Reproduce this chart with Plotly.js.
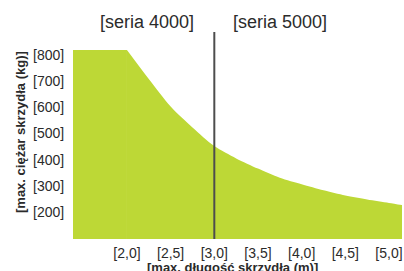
<!DOCTYPE html>
<html>
<head>
<meta charset="utf-8">
<script src="https://cdn.plot.ly/plotly-3.0.1.min.js"></script>
<style>html,body{margin:0;padding:0;background:#fff;}#chart{width:404px;height:271px;}</style>
</head>
<body>
<div id="chart"></div>
<script>
// Data
const lengthM = [1.38, 2.0, 2.25, 2.5, 2.75, 3.0, 3.25, 3.5, 3.75, 4.0, 4.25, 4.5, 4.75, 5.0, 5.15];
const maxWeightKg = [819, 819, 708, 603, 523, 452, 405, 366, 331, 306, 283, 263, 248, 235, 227];
const xTickVals = [2.0, 2.5, 3.0, 3.5, 4.0, 4.5, 5.0];
const xTickText = ['[2,0]', '[2,5]', '[3,0]', '[3,5]', '[4,0]', '[4,5]', '[5,0]'];
const yTickVals = [200, 300, 400, 500, 600, 700, 800];
const yTickText = ['[200]', '[300]', '[400]', '[500]', '[600]', '[700]', '[800]'];
const seriesBoundary = 3.0;
const seriesLabels = ['[seria 4000]', '[seria 5000]'];
const xTitle = '[max. długość skrzydła (m)]';
const yTitle = '[max. ciężar skrzydła (kg)]';

const FONT = 'Liberation Sans, Arial, sans-serif';
const TXT = '#2b2b2b';
const GREEN = '#bdd836';

// flat plateau (first two points) and the smooth falling curve (from the 2nd point on)
const plateau = {
  x: lengthM.slice(0, 2), y: maxWeightKg.slice(0, 2),
  type: 'scatter', mode: 'lines', line: {width: 0, color: GREEN},
  fill: 'tozeroy', fillcolor: GREEN, hoverinfo: 'skip'
};
const curve = {
  x: lengthM.slice(1), y: maxWeightKg.slice(1),
  type: 'scatter', mode: 'lines', line: {width: 0, color: GREEN, shape: 'spline', smoothing: 0.8},
  fill: 'tozeroy', fillcolor: GREEN, hoverinfo: 'skip'
};

const layout = {
  width: 404,
  height: 271,
  margin: {l: 73, r: 2, t: 32, b: 32, pad: 0},
  paper_bgcolor: '#ffffff',
  plot_bgcolor: '#ffffff',
  showlegend: false,
  font: {family: FONT, color: TXT, size: 14},
  xaxis: {
    range: [1.382, 5.149],
    tickvals: xTickVals,
    ticktext: xTickText,
    showgrid: false,
    zeroline: false,
    showline: false,
    ticks: '',
    ticklabelstandoff: 4,
    tickfont: {family: FONT, size: 14, color: TXT},
    fixedrange: true
  },
  yaxis: {
    range: [97, 888],
    tickvals: yTickVals,
    ticktext: yTickText,
    showgrid: false,
    zeroline: false,
    showline: false,
    ticks: 'outside',
    ticklen: 5,
    tickcolor: 'rgba(0,0,0,0)',
    tickfont: {family: FONT, size: 14, color: TXT},
    fixedrange: true
  },
  shapes: [{
    type: 'line',
    xref: 'x', yref: 'paper',
    x0: seriesBoundary, x1: seriesBoundary, y0: 0, y1: 1,
    line: {color: '#4d4d4d', width: 2}
  }],
  annotations: [
    {text: seriesLabels[0], xref: 'x', yref: 'paper', x: seriesBoundary, y: 1.046,
     xanchor: 'right', yanchor: 'middle', xshift: -18, showarrow: false,
     font: {family: FONT, size: 18, color: TXT}},
    {text: seriesLabels[1], xref: 'x', yref: 'paper', x: seriesBoundary, y: 1.046,
     xanchor: 'left', yanchor: 'middle', xshift: 17, showarrow: false,
     font: {family: FONT, size: 18, color: TXT}},
    {text: '<b>' + xTitle + '</b>', xref: 'paper', yref: 'paper', x: 0.486, y: -0.14,
     xanchor: 'center', yanchor: 'middle', showarrow: false,
     font: {family: FONT, size: 13, color: TXT}},
    {text: '<b>' + yTitle + '</b>', xref: 'paper', yref: 'paper', x: -0.158, y: 0.517,
     xanchor: 'center', yanchor: 'middle', textangle: -90, showarrow: false,
     font: {family: FONT, size: 13, color: TXT}}
  ]
};

Plotly.newPlot('chart', [plateau, curve], layout, {displayModeBar: false, staticPlot: true});
</script>
</body>
</html>
